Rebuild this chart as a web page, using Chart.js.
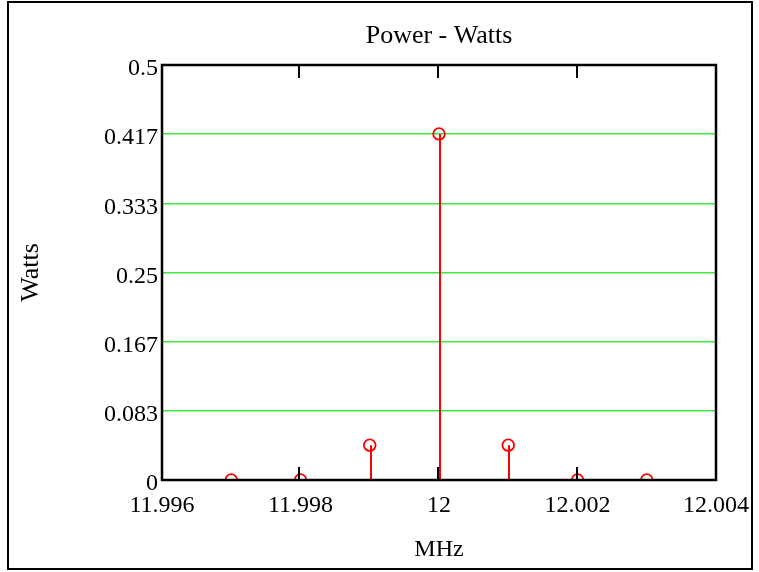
<!DOCTYPE html>
<html lang="en">
<head>
  <meta charset="UTF-8" />
  <title>Power - Watts</title>
  <script src="https://cdn.jsdelivr.net/npm/chart.js"></script>
  <style>
    body { margin: 0; background: #fff; }
    .wrap { width: 759px; height: 572px; }
  </style>
</head>
<body>
  <div class="wrap"><canvas id="powerChart" width="759" height="572"></canvas></div>

  <script>
    // spectrum lines
    const freqMHz = [11.997, 11.998, 11.999, 12, 12.001, 12.002, 12.003];
    const powerW = [0, 0, 0.042, 0.417, 0.042, 0, 0];

    // y axis ticks (Mathcad style, 1/12 steps)
    const yTickValues = [0, 0.08333, 0.16667, 0.25, 0.33333, 0.41667, 0.5];
    const yTickLabels = ['0', '0.083', '0.167', '0.25', '0.333', '0.417', '0.5'];
    const xTickValues = [11.996, 11.998, 12, 12.002, 12.004];
    const xTickLabels = ['11.996', '11.998', '12', '12.002', '12.004'];

    const serif = "'Liberation Serif', 'DejaVu Serif', serif";

    // frame, outer border, stems and inner x tick marks
    const mathcadLook = {
      id: 'mathcadLook',
      beforeDatasetsDraw(chart) {
        const { ctx, chartArea: a, scales } = chart;
        const x = scales.x, y = scales.y;
        ctx.save();
        ctx.beginPath();
        ctx.rect(a.left, a.top, a.right - a.left, a.bottom - a.top);
        ctx.clip();
        // stems
        ctx.strokeStyle = '#ff0000';
        ctx.lineWidth = 2;
        freqMHz.forEach((f, i) => {
          const px = Math.round(x.getPixelForValue(f)) + 1;
          ctx.beginPath();
          ctx.moveTo(px, y.getPixelForValue(0));
          ctx.lineTo(px, y.getPixelForValue(powerW[i]));
          ctx.stroke();
        });
        ctx.restore();
      },
      afterDraw(chart) {
        const { ctx, chartArea: a, scales } = chart;
        const x = scales.x;
        ctx.save();
        ctx.strokeStyle = '#000';
        ctx.lineWidth = 2;
        // inner tick marks top and bottom
        xTickValues.slice(1, -1).forEach(v => {
          const px = Math.round(x.getPixelForValue(v)) - 1;
          ctx.beginPath();
          ctx.moveTo(px, a.bottom);
          ctx.lineTo(px, a.bottom - 13);
          ctx.moveTo(px, a.top);
          ctx.lineTo(px, a.top + 13);
          ctx.stroke();
        });
        // plot frame
        ctx.lineWidth = 2.5;
        ctx.strokeRect(a.left, a.top, a.right - a.left, a.bottom - a.top);
        // outer border
        ctx.lineWidth = 2;
        ctx.strokeRect(8, 2, 744, 567);
        ctx.restore();
      }
    };

    const ctx = document.getElementById('powerChart').getContext('2d');
    new Chart(ctx, {
      type: 'scatter',
      data: {
        datasets: [{
          label: 'Power',
          data: freqMHz.map((f, i) => ({ x: f, y: powerW[i] })),
          pointStyle: 'circle',
          pointRadius: 5.8,
          pointBorderWidth: 1.8,
          pointBorderColor: '#ff0000',
          pointBackgroundColor: 'rgba(0,0,0,0)',
          showLine: false
        }]
      },
      options: {
        responsive: false,
        animation: false,
        layout: { padding: { left: 0, right: 43, top: 0, bottom: 0 } },
        plugins: {
          legend: { display: false },
          tooltip: { enabled: false }
        },
        scales: {
          x: {
            type: 'linear',
            min: 11.996,
            max: 12.004,
            afterFit: s => { s.height = 92; },
            afterBuildTicks: s => { s.ticks = xTickValues.map(v => ({ value: v })); },
            grid: { display: false },
            border: { display: false },
            ticks: {
              color: '#000',
              padding: 3,
              maxRotation: 0,
              font: { family: serif, size: 24 },
              callback: (v, i) => xTickLabels[i]
            },
            title: {
              display: true,
              text: 'MHz',
              color: '#000',
              font: { family: serif, size: 24 },
              padding: { top: 4, bottom: 8 }
            }
          },
          // top axis only carries the chart title, centred over the plot
          x2: {
            type: 'linear',
            position: 'top',
            min: 11.996,
            max: 12.004,
            afterFit: s => { s.height = 65; },
            grid: { display: false },
            border: { display: false },
            ticks: { display: false },
            title: {
              display: true,
              text: 'Power - Watts',
              color: '#000',
              font: { family: serif, size: 26 },
              padding: { top: 21, bottom: 4 }
            }
          },
          y: {
            min: 0,
            max: 0.5,
            afterFit: s => { s.width = 162; },
            afterBuildTicks: s => { s.ticks = yTickValues.map(v => ({ value: v })); },
            grid: {
              drawTicks: false,
              lineWidth: 1.5,
              color: c => (c.index === 0 || c.index === yTickValues.length - 1) ? 'rgba(0,0,0,0)' : '#3ee83e'
            },
            border: { display: false },
            ticks: {
              color: '#000',
              padding: 4,
              labelOffset: 4,
              font: { family: serif, size: 24 },
              callback: (v, i) => yTickLabels[i]
            },
            title: {
              display: true,
              text: 'Watts',
              color: '#000',
              font: { family: serif, size: 26 },
              padding: { top: 16, bottom: 4 }
            }
          }
        }
      },
      plugins: [mathcadLook]
    });
  </script>
</body>
</html>
